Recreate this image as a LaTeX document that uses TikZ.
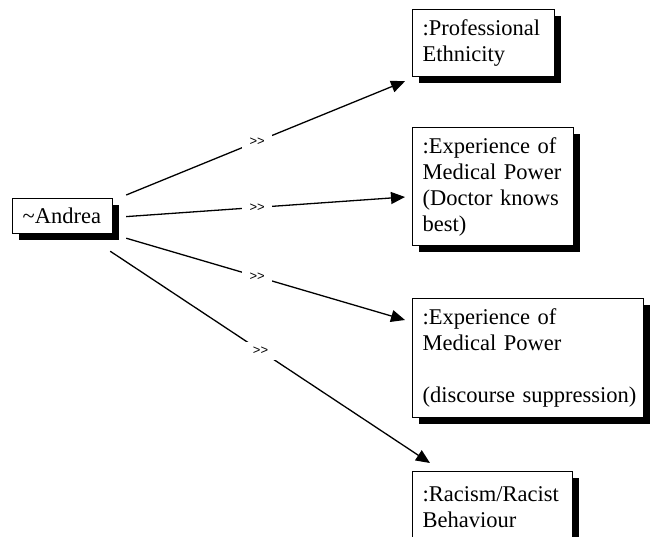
\documentclass[tikz,border=0pt]{standalone}
\usepackage{fontspec}
\setmainfont{Liberation Serif}
\setsansfont{Liberation Sans}
\usetikzlibrary{shadows,calc,arrows.meta}
\begin{document}
\begin{tikzpicture}[x=1pt,y=-1pt,
  objbox/.style={draw=black, line width=1.2pt, fill=white, anchor=north west,
    inner xsep=10pt, inner ysep=0pt, align=left,
    font=\fontsize{22.5}{26}\selectfont,
    general shadow={fill=black, shadow xshift=6pt, shadow yshift=-6pt}},
  link/.style={line width=1.3pt, -{Triangle[length=14pt,width=12pt]}},
  stereo/.style={fill=white, inner sep=0pt, minimum width=30pt, minimum height=18pt,
    font=\sffamily\fontsize{13}{13}\selectfont}]
\useasboundingbox (0,0) rectangle (650,536);

% actor and the four object boxes (each line kept whole with \mbox)
\node[objbox, text width=80pt, minimum height=35pt] (andrea) at (12,198) {\textasciitilde Andrea};
\node[objbox, text width=122pt, minimum height=67pt] (prof) at (412,9)
  {\mbox{:Professional}\\Ethnicity};
\node[objbox, text width=141pt, minimum height=118pt] (exp1) at (412,127)
  {\mbox{:Experience of}\\\mbox{Medical Power}\\\mbox{(Doctor knows}\\best)};
\node[objbox, text width=211pt, minimum height=119pt] (exp2) at (412,298)
  {\mbox{:Experience of}\\\mbox{Medical Power}\\\mbox{}\\\mbox{(discourse suppression)}};
\node[objbox, text width=140pt, minimum height=72pt] (racism) at (412,471)
  {\mbox{:Racism/Racist}\\Behaviour\\[6pt]};

% links from the actor, each broken by its >> label
\draw[link] ($(andrea.north east)+(13,-3)$) -- node[stereo, pos=0.47] {>{}>} ($(prof.south west)+(-7,4)$);
\draw[link] ($(andrea.east)+(13,0.5)$) -- node[stereo, pos=0.47] {>{}>} ($(exp1.north west)+(-7,70)$);
\draw[link] ($(andrea.south east)+(13,4)$) -- node[stereo, pos=0.47] {>{}>} ($(exp2.north west)+(-7,22)$);
\draw[link] ($(andrea.south east)+(-3,17)$) -- node[stereo, pos=0.47] {>{}>} ($(racism.north west)+(18,-8)$);
\end{tikzpicture}
\end{document}
